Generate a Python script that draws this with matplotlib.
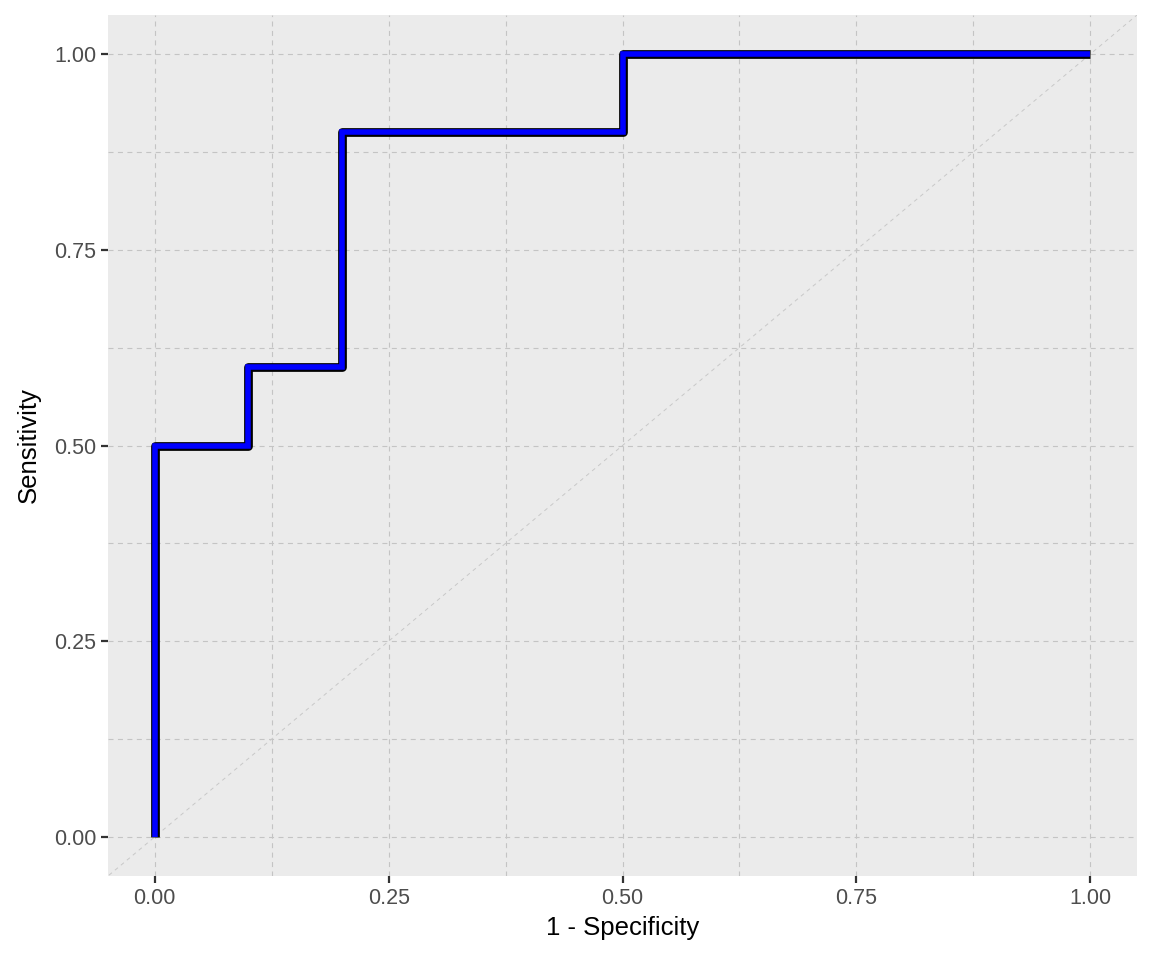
import numpy as np
import matplotlib
matplotlib.use("Agg")
import matplotlib.pyplot as plt
from matplotlib.ticker import MultipleLocator

# ROC curve points (1 - specificity, sensitivity)
fpr = [0.0, 0.0, 0.1, 0.1, 0.2, 0.2, 0.5, 0.5, 1.0]
tpr = [0.0, 0.5, 0.5, 0.6, 0.6, 0.9, 0.9, 1.0, 1.0]
ticks = [0.0, 0.25, 0.5, 0.75, 1.0]
tick_labels = ["0.00", "0.25", "0.50", "0.75", "1.00"]

plt.rcParams['font.family'] = ['Liberation Sans', 'DejaVu Sans']

fig = plt.figure(figsize=(11.52, 9.6), dpi=100)
ax = fig.add_axes([0.09375, 0.0875, 0.89323, 0.896875])
ax.set_facecolor("#ebebeb")
for s in ax.spines.values():
    s.set_visible(False)

ax.set_xlim(-0.05, 1.05)
ax.set_ylim(-0.05, 1.05)
ax.set_xticks(ticks)
ax.set_xticklabels(tick_labels)
ax.set_yticks(ticks)
ax.set_yticklabels(tick_labels)
ax.xaxis.set_minor_locator(MultipleLocator(0.125))
ax.yaxis.set_minor_locator(MultipleLocator(0.125))
ax.tick_params(which="minor", length=0)
ax.tick_params(which="major", length=5, width=1.6, color="#333333",
               labelsize=15.5, labelcolor="#4d4d4d", pad=3.5)

ax.grid(True, which="both", color="#c4c4c4", linestyle=(0, (4.5, 4)), linewidth=0.8)
ax.set_axisbelow(True)

# reference diagonal
ax.plot([-0.1, 1.1], [-0.1, 1.1], color="#c8c8c8", linestyle=(0, (4, 4)),
        linewidth=0.7, zorder=1)

# outlined step curve
ax.plot(fpr, tpr, color="black", linewidth=6.3, solid_joinstyle="round",
        solid_capstyle="butt", zorder=3)
ax.plot(fpr, tpr, color="#0000ff", linewidth=4.0, solid_joinstyle="miter",
        solid_capstyle="butt", zorder=4)

ax.set_xlabel("1 - Specificity", fontsize=18.5, color="black", labelpad=5)
ax.set_ylabel("Sensitivity", fontsize=18.5, color="black", labelpad=9)

fig.savefig("out.png", dpi=100)
